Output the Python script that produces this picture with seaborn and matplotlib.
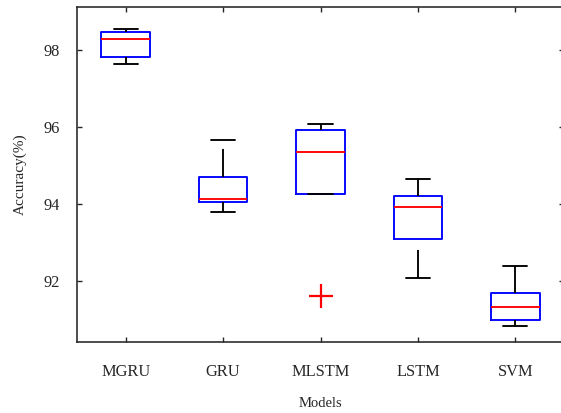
import numpy as np
import pandas as pd
import matplotlib
matplotlib.use("Agg")
import matplotlib.pyplot as plt
import seaborn as sns

# ---- data ----
models = ["MGRU", "GRU", "MLSTM", "LSTM", "SVM"]
mgru = [97.63, 97.81, 98.28, 98.46, 98.55]
gru = [93.79, 94.05, 94.125, 94.70, 95.66]
mlstm = [91.60, 94.25, 94.25, 94.80, 95.34, 95.60, 95.92, 96.00, 96.08]
lstm = [92.08, 93.08, 93.925, 94.21, 94.645]
svm = [90.83, 90.97, 91.31, 91.69, 92.38]
y_ticks = [92, 94, 96, 98]
x_label = "Models"
y_label = "Accuracy(%)"

series = [mgru, gru, mlstm, lstm, svm]
df = pd.DataFrame({
    "Models": np.repeat(models, [len(s) for s in series]),
    "Accuracy": np.concatenate(series),
})

sns.set_style("white")
plt.rcParams["font.family"] = ["Liberation Serif", "DejaVu Serif"]
plt.rcParams["lines.scale_dashes"] = False

W, H = 561, 413
fig = plt.figure(figsize=(W / 100, H / 100), dpi=100)
ax = fig.add_axes([77 / W, 1 - 342.3 / H, (564 - 77) / W, (342.3 - 6.7) / H])

lw = 1.35
sns.boxplot(
    data=df, x="Models", y="Accuracy", order=models, width=0.5, fill=False,
    whis=1.5, ax=ax,
    boxprops=dict(color="blue", linewidth=lw),
    medianprops=dict(color="red", linewidth=lw),
    whiskerprops=dict(color="black", linewidth=lw, linestyle=(0, (20.2, 8.6))),
    capprops=dict(color="black", linewidth=lw),
    flierprops=dict(marker="+", markeredgecolor="red", markerfacecolor="none",
                    markersize=17, markeredgewidth=1.6, linestyle="none"),
)

# MATLAB draws the lower whisker from the adjacent value up to the box
for ln in ax.lines:
    ls = ln.get_linestyle()
    if ls in ("--", "-.", ":") or ls.startswith("("):
        y = np.asarray(ln.get_ydata(), dtype=float)
        if len(y) == 2 and y[1] < y[0]:
            ln.set_ydata(y[::-1])
            ln.set_xdata(np.asarray(ln.get_xdata())[::-1])

ax.set_xlim(-0.5, len(models) - 0.5)
ax.set_ylim(90.40, 99.126)
ax.set_yticks(y_ticks)
ax.set_yticklabels([str(t) for t in y_ticks])

dark = "#262626"
for sp in ax.spines.values():
    sp.set_visible(True)
    sp.set_color(dark)
    sp.set_linewidth(1.15)

ax.tick_params(axis="both", direction="in", length=3.6, width=1.0,
               color=dark, labelcolor=dark, labelsize=11.8,
               top=True, right=True, bottom=True, left=True)
ax.tick_params(axis="x", pad=15.8)
ax.tick_params(axis="y", pad=12.2)

ax.set_xlabel(x_label, fontsize=10.5, color=dark, labelpad=12.3)
ax.set_ylabel(y_label, fontsize=11, color=dark, labelpad=12.2)
ax.grid(False)

fig.savefig("out.png", dpi=100)
